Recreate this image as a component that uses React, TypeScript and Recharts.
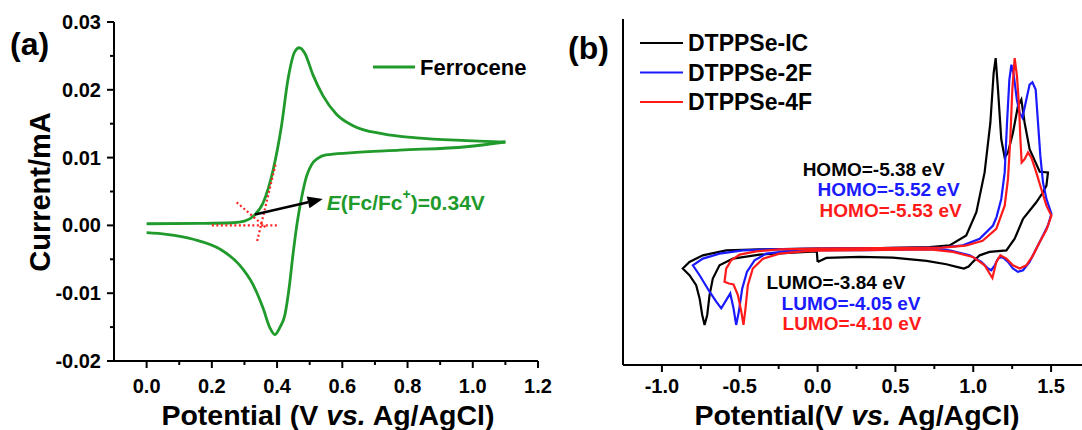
import React from 'react';
import { LineChart, Line, XAxis, YAxis, ReferenceLine, ReferenceDot } from 'recharts';

const FONT = '"Liberation Sans", Arial, sans-serif';
const GREEN = '#1f9a2b';
const BLUE = '#1a1aff';
const RED = '#ff1a1a';

// (a) ferrocene CV: potential (V) and current (mA), forward and return sweeps
const FC_FWD_V = [0, 0.163, 0.265, 0.3, 0.327, 0.357, 0.388, 0.413, 0.434, 0.454, 0.468, 0.485, 0.51, 0.541, 0.582, 0.633, 0.725, 0.827, 0.98, 1.1];
const FC_FWD_I = [0.00024, 0.00029, 0.00039, 0.00063, 0.00136, 0.0033, 0.0082, 0.0145, 0.0217, 0.0256, 0.0262, 0.0254, 0.0222, 0.0191, 0.0164, 0.0147, 0.0135, 0.0129, 0.0125, 0.0123];
const FC_REV_V = [0, 0.061, 0.143, 0.225, 0.286, 0.327, 0.357, 0.378, 0.393, 0.408, 0.424, 0.437, 0.449, 0.462, 0.476, 0.49, 0.505, 0.525, 0.55, 0.623, 0.776, 0.98, 1.1];
const FC_REV_I = [-0.00107, -0.00131, -0.00204, -0.0035, -0.0059, -0.0088, -0.0122, -0.0151, -0.0161, -0.0151, -0.0132, -0.0092, -0.0042, 0.0005, 0.0043, 0.0072, 0.0089, 0.0099, 0.0104, 0.0107, 0.0111, 0.0116, 0.0123];

// onset construction lines + arrow (V, mA)
const BASELINE_SEG = [[0.2, 0.0], [0.402, 0.0]];
const TANGENT_SEG = [[0.339, -0.0023], [0.396, 0.0091]];
const DIAG_SEG = [[0.276, 0.0034], [0.37, -0.0005]];
const ARROW_SEG = [[0.332, 0.0016], [0.54, 0.0039]];
const E_LABEL_AT = [0.552, 0.0035];

const A_X_MAJOR = [0, 0.2, 0.4, 0.6, 0.8, 1.0, 1.2];
const A_X_MINOR = [0.1, 0.3, 0.5, 0.7, 0.9, 1.1];
const A_Y_MAJOR = [-0.02, -0.01, 0, 0.01, 0.02, 0.03];
const A_Y_MINOR = [-0.015, -0.005, 0.005, 0.015, 0.025];

// (b) CV loops, potential (V) and current (arb. units), traced as drawn
const IC_V = [0, 0.056, 0.27, 0.484, 0.7, 0.827, 0.9, 0.94, 0.97, 1.0, 1.041, 1.105, 1.213, 1.266, 1.32, 1.405, 1.448, 1.47, 1.48,
  1.427, 1.362, 1.33, 1.309, 1.287, 1.255, 1.223, 1.202, 1.18, 1.159, 1.144, 1.131, 1.11, 1.073, 1.02, 0.955, 0.848, 0.72, 0.4, 0,
  -0.373, -0.587, -0.737, -0.823, -0.866, -0.823, -0.78, -0.758, -0.741, -0.726, -0.709, -0.694, -0.673, -0.63, -0.544, -0.373, -0.159, -0.005, 0];
const IC_I = [-1.33, -0.93, -0.83, -0.9, -1.23, -1.57, -1.85, -2.0, -1.8, -1.3, -0.67, -0.33, -0.17, 1.0, 3.0, 4.67, 5.67, 6.33, 7.67,
  7.73, 10.0, 12.67, 15.0, 14.33, 11.67, 9.67, 9.17, 11.0, 16.0, 19.17, 17.67, 12.67, 7.67, 3.67, 1.33, 0.33, 0.17, 0.05, 0,
  -0.07, -0.17, -0.67, -1.33, -2.0, -2.67, -3.67, -5.0, -6.67, -7.67, -6.67, -4.67, -3.0, -1.67, -1.0, -0.6, -0.4, -0.27, -1.33];

const F2_V = [0, 0.3, 0.72, 0.848, 0.977, 1.052, 1.095, 1.116, 1.138, 1.16, 1.18, 1.2, 1.223, 1.255, 1.287, 1.32, 1.362, 1.405, 1.448, 1.48, 1.502,
  1.47, 1.448, 1.431, 1.416, 1.401, 1.38, 1.362, 1.341, 1.316, 1.298, 1.28, 1.26, 1.245, 1.232, 1.217, 1.202, 1.18, 1.15, 1.127, 1.041, 0.934, 0.8, 0.4, 0,
  -0.308, -0.48, -0.63, -0.737, -0.801, -0.758, -0.694, -0.651, -0.619, -0.587, -0.561, -0.54, -0.523, -0.506, -0.484, -0.454, -0.405, -0.33, -0.159, 0];
const F2_I = [-0.15, -0.15, -0.05, -0.17, -0.67, -1.33, -2.0, -2.17, -1.67, -1.0, -0.83, -1.0, -1.33, -2.0, -2.33, -2.17, -1.33, 0, 1.33, 2.33, 3.5,
  5.0, 6.67, 9.33, 12.67, 16.0, 16.73, 16.5, 15.0, 13.17, 13.67, 15.0, 17.5, 18.5, 17.0, 12.67, 7.67, 5.0, 3.2, 2.33, 1.0, 0.33, 0.1, 0.05, 0,
  -0.07, -0.17, -0.5, -1.0, -1.67, -2.67, -4.33, -5.33, -6.0, -5.17, -4.5, -6.0, -7.67, -6.33, -4.0, -2.33, -1.17, -0.5, -0.2, -0.15];

const F4_V = [0, 0.3, 0.72, 0.87, 0.998, 1.073, 1.105, 1.123, 1.148, 1.174, 1.213, 1.255, 1.298, 1.341, 1.384, 1.427, 1.47, 1.502,
  1.47, 1.437, 1.405, 1.373, 1.352, 1.33, 1.311, 1.303, 1.294, 1.281, 1.266, 1.251, 1.238, 1.223, 1.202, 1.148, 1.06, 0.95, 0.8, 0.4, 0,
  -0.244, -0.394, -0.501, -0.555, -0.587, -0.598, -0.57, -0.54, -0.512, -0.49, -0.476, -0.463, -0.448, -0.416, -0.351, -0.244, -0.094, 0];
const F4_I = [-0.2, -0.15, -0.07, -0.33, -0.83, -1.67, -2.5, -2.95, -1.33, -0.67, -1.0, -1.67, -2.0, -1.67, -0.67, 0.67, 1.9, 3.33,
  4.33, 6.0, 7.67, 9.17, 9.67, 9.0, 8.67, 11.0, 14.33, 17.33, 19.17, 16.0, 11.0, 7.0, 4.33, 2.0, 0.8, 0.3, 0.1, 0.05, 0,
  -0.07, -0.27, -0.6, -1.17, -2.0, -3.33, -3.5, -3.6, -4.67, -6.33, -7.67, -6.0, -3.67, -2.0, -1.0, -0.5, -0.27, -0.2];

const B_X_MAJOR = [-1.0, -0.5, 0, 0.5, 1.0, 1.5];
const B_X_MINOR = [-0.75, -0.25, 0.25, 0.75, 1.25];

// HOMO / LUMO notes: [V, current] of text start
const B_NOTES = [
  { text: 'HOMO=-5.38 eV', color: '#000', at: [-0.096, 7.98] },
  { text: 'HOMO=-5.52 eV', color: BLUE, at: [0.0, 5.93] },
  { text: 'HOMO=-5.53 eV', color: RED, at: [0.013, 3.88] },
  { text: 'LUMO=-3.84 eV', color: '#000', at: [-0.328, -3.45] },
  { text: 'LUMO=-4.05 eV', color: BLUE, at: [-0.231, -5.5] },
  { text: 'LUMO=-4.10 eV', color: RED, at: [-0.225, -7.55] },
];

const zip = (vs: number[], is: number[]) => vs.map((v, k) => ({ v, i: is[k] }));
const fcFwd = zip(FC_FWD_V, FC_FWD_I);
const fcRev = zip(FC_REV_V, FC_REV_I);
const icLoop = zip(IC_V, IC_I);
const f2Loop = zip(F2_V, F2_I);
const f4Loop = zip(F4_V, F4_I);

const seg = (s: number[][]) => s.map(([x, y]) => ({ x, y }));

const tickText = { fontSize: 20, fontWeight: 'bold' as const, fontFamily: FONT, fill: '#000' };

const makeXTick = (major: number[], digits: number, gap: number) => (p: any) => {
  const isMajor = major.includes(p.payload.value);
  return (
    <g>
      <line x1={p.x} y1={p.y} x2={p.x} y2={p.y + (isMajor ? 7 : 4)} stroke="#000" strokeWidth={2} />
      {isMajor && (
        <text x={p.x} y={p.y + gap} textAnchor="middle" dominantBaseline="central" {...tickText}>
          {p.payload.value.toFixed(digits)}
        </text>
      )}
    </g>
  );
};

const yTickA = (p: any) => {
  const isMajor = A_Y_MAJOR.includes(p.payload.value);
  return (
    <g>
      <line x1={p.x - (isMajor ? 7 : 4)} y1={p.y} x2={p.x} y2={p.y} stroke="#000" strokeWidth={2} />
      {isMajor && (
        <text x={p.x - 13} y={p.y} textAnchor="end" dominantBaseline="central" {...tickText}>
          {p.payload.value.toFixed(2)}
        </text>
      )}
    </g>
  );
};

const arrowShape = (p: any) => {
  const { x1, y1, x2, y2 } = p;
  const a = Math.atan2(y2 - y1, x2 - x1);
  const L = 15, W = 6;
  const bx = x2 - L * Math.cos(a), by = y2 - L * Math.sin(a);
  const pts = [
    [x2, y2],
    [bx + W * Math.sin(a), by - W * Math.cos(a)],
    [bx - W * Math.sin(a), by + W * Math.cos(a)],
  ].map((q) => q.join(',')).join(' ');
  return (
    <g>
      <line x1={x1} y1={y1} x2={bx} y2={by} stroke="#000" strokeWidth={2.5} />
      <polygon points={pts} fill="#000" />
    </g>
  );
};

const noteShape = (content: React.ReactNode, color: string, size: number) => (p: any) => (
  <text x={p.cx} y={p.cy} fill={color} fontSize={size} fontWeight="bold" fontFamily={FONT} dominantBaseline="central">
    {content}
  </text>
);

const frameAxis = { stroke: '#000', strokeWidth: 2 };

const PanelA = () => (
  <LineChart width={560} height={430} margin={{ top: 22, right: 22, bottom: 0, left: 0 }}>
    <XAxis type="number" dataKey="v" domain={[-0.1, 1.2]} ticks={[...A_X_MAJOR, ...A_X_MINOR].sort((a, b) => a - b)}
      interval={0} tickSize={0} tickMargin={0} tickLine={false} axisLine={frameAxis} tick={makeXTick(A_X_MAJOR, 1, 25)} height={69} allowDataOverflow />
    <XAxis xAxisId="top" orientation="top" type="number" domain={[-0.1, 1.2]} tick={false} tickLine={false} axisLine={frameAxis} height={0} allowDataOverflow />
    <YAxis type="number" domain={[-0.02, 0.03]} ticks={[...A_Y_MAJOR, ...A_Y_MINOR].sort((a, b) => a - b)}
      interval={0} tickSize={0} tickMargin={0} tickLine={false} axisLine={frameAxis} tick={yTickA} width={114} allowDataOverflow />
    <YAxis yAxisId="right" orientation="right" type="number" domain={[-0.02, 0.03]} tick={false} tickLine={false} axisLine={frameAxis} width={0} allowDataOverflow />
    <Line data={fcFwd} dataKey="i" type="monotone" stroke={GREEN} strokeWidth={2.8} dot={false} isAnimationActive={false} name="Ferrocene" />
    <Line data={fcRev} dataKey="i" type="monotone" stroke={GREEN} strokeWidth={2.8} dot={false} isAnimationActive={false} legendType="none" />
    {[BASELINE_SEG, TANGENT_SEG, DIAG_SEG].map((s, k) => (
      <ReferenceLine key={k} segment={seg(s)} stroke="#ff2020" strokeWidth={2.2} strokeDasharray="2 2.5" />
    ))}
    <ReferenceLine segment={seg(ARROW_SEG)} shape={arrowShape} />
    <ReferenceDot x={E_LABEL_AT[0]} y={E_LABEL_AT[1]} r={0}
      shape={noteShape(
        <>
          <tspan fontStyle="italic">E</tspan>
          <tspan>(Fc/Fc</tspan>
          <tspan fontSize={14} dy={-8}>+</tspan>
          <tspan dy={8}>)=0.34V</tspan>
        </>,
        GREEN,
        21,
      )} />
  </LineChart>
);

const PanelB = () => (
  <LineChart width={540} height={430} margin={{ top: 19, right: 10, bottom: 0, left: 0 }}>
    <XAxis type="number" dataKey="v" domain={[-1.25, 1.75]} ticks={[...B_X_MAJOR, ...B_X_MINOR].sort((a, b) => a - b)}
      interval={0} tickSize={0} tickMargin={0} tickLine={false} axisLine={frameAxis} tick={makeXTick(B_X_MAJOR, 1, 21)} height={65} allowDataOverflow />
    <XAxis xAxisId="top" orientation="top" type="number" domain={[-1.25, 1.75]} tick={false} tickLine={false} axisLine={frameAxis} height={0} allowDataOverflow />
    <YAxis type="number" domain={[-11.7, 23.1]} tick={false} tickLine={false} axisLine={frameAxis} width={63} allowDataOverflow />
    <Line data={icLoop} dataKey="i" type="linear" stroke="#000" strokeWidth={2.2} dot={false} isAnimationActive={false} name="DTPPSe-IC" />
    <Line data={f2Loop} dataKey="i" type="linear" stroke={BLUE} strokeWidth={2.2} dot={false} isAnimationActive={false} name="DTPPSe-2F" />
    <Line data={f4Loop} dataKey="i" type="linear" stroke={RED} strokeWidth={2.2} dot={false} isAnimationActive={false} name="DTPPSe-4F" />
    {B_NOTES.map((n) => (
      <ReferenceDot key={n.text} x={n.at[0]} y={n.at[1]} r={0} shape={noteShape(n.text, n.color, 19)} />
    ))}
  </LineChart>
);

const LEGEND_B = [
  { name: 'DTPPSe-IC', color: '#000' },
  { name: 'DTPPSe-2F', color: BLUE },
  { name: 'DTPPSe-4F', color: RED },
];

const Overlay = () => (
  <svg width={1082} height={430} style={{ position: 'absolute', left: 0, top: 0, pointerEvents: 'none' }} fontFamily={FONT} fontWeight="bold">
    <text x={10} y={44} fontSize={32} dominantBaseline="central">(a)</text>
    <text x={568} y={48} fontSize={32} dominantBaseline="central">(b)</text>
    <text transform="translate(40,192) rotate(-90)" textAnchor="middle" dominantBaseline="central" fontSize={29}>Current/mA</text>
    <text x={328} y={415} textAnchor="middle" dominantBaseline="central" fontSize={28.5}>
      Potential (V <tspan fontStyle="italic">vs.</tspan> Ag/AgCl)
    </text>
    <text x={857} y={415} textAnchor="middle" dominantBaseline="central" fontSize={28.5}>
      Potential(V <tspan fontStyle="italic">vs.</tspan> Ag/AgCl)
    </text>
    <line x1={373} y1={67} x2={415} y2={67} stroke={GREEN} strokeWidth={2.8} />
    <text x={420} y={67} fontSize={22} dominantBaseline="central">Ferrocene</text>
    {LEGEND_B.map((l, k) => (
      <g key={l.name}>
        <line x1={640} y1={43 + k * 29.5} x2={683} y2={43 + k * 29.5} stroke={l.color} strokeWidth={2.2} />
        <text x={688} y={43 + k * 29.5} fontSize={23} dominantBaseline="central">{l.name}</text>
      </g>
    ))}
  </svg>
);

export default function App() {
  return (
    <div style={{ position: 'absolute', left: 0, top: 0, width: 1082, height: 430, overflow: 'hidden', background: '#fff', fontFamily: FONT }}>
      <div style={{ position: 'absolute', left: 0, top: 0 }}>
        <PanelA />
      </div>
      <div style={{ position: 'absolute', left: 560, top: 0 }}>
        <PanelB />
      </div>
      <Overlay />
    </div>
  );
}
